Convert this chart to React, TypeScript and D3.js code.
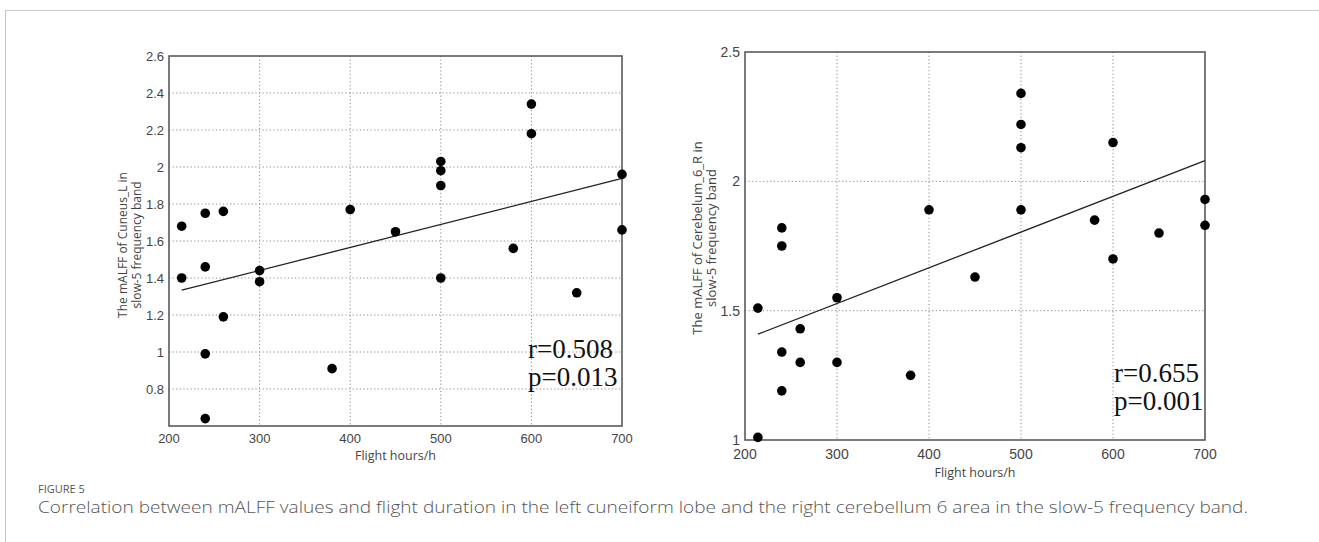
import React from "react";
import * as d3 from "d3";

// ---- Data ----
const leftHours = [214, 214, 240, 240, 240, 240, 260, 260, 300, 300, 380, 400, 450, 500, 500, 500, 500, 580, 600, 600, 650, 700, 700];
const leftValues = [1.68, 1.40, 1.75, 1.46, 0.99, 0.64, 1.76, 1.19, 1.44, 1.38, 0.91, 1.77, 1.65, 2.03, 1.98, 1.90, 1.40, 1.56, 2.34, 2.18, 1.32, 1.96, 1.66];
const leftFit: [number, number][] = [[214, 1.334], [700, 1.938]];
const leftYTicks = [0.8, 1, 1.2, 1.4, 1.6, 1.8, 2, 2.2, 2.4, 2.6];
const leftYDomain: [number, number] = [0.6, 2.6];
const leftStats = ["r=0.508", "p=0.013"];
const leftYLabel = ["The mALFF of Cuneus_L in", "slow-5 frequency band"];

const rightHours = [214, 214, 240, 240, 240, 240, 260, 260, 300, 300, 380, 400, 450, 500, 500, 500, 500, 580, 600, 600, 650, 700, 700];
const rightValues = [1.51, 1.01, 1.82, 1.75, 1.34, 1.19, 1.43, 1.30, 1.55, 1.30, 1.25, 1.89, 1.63, 2.34, 2.22, 2.13, 1.89, 1.85, 2.15, 1.70, 1.80, 1.93, 1.83];
const rightFit: [number, number][] = [[214, 1.409], [700, 2.08]];
const rightYTicks = [1, 1.5, 2, 2.5];
const rightYDomain: [number, number] = [1, 2.5];
const rightStats = ["r=0.655", "p=0.001"];
const rightYLabel = ["The mALFF of Cerebelum_6_R in", "slow-5 frequency band"];

const xTicks = [200, 300, 400, 500, 600, 700];
const xDomain: [number, number] = [200, 700];
const xLabel = "Flight hours/h";
const figureLabel = "FIGURE 5";
const caption = "Correlation between mALFF values and flight duration in the left cuneiform lobe and the right cerebellum 6 area in the slow-5 frequency band.";

type PanelProps = {
  x0: number; x1: number; y0: number; y1: number;
  hours: number[]; values: number[]; fit: [number, number][];
  yTicks: number[]; yDomain: [number, number];
  stats: string[]; yLabel: string[];
  yLabelX: number; yLabelY: number; yLabelSize: number;
  tickSize: number; tickOff: number; titleOff: number;
  statsX: number; statsY: number;
};

function Panel(p: PanelProps) {
  const x = d3.scaleLinear().domain(xDomain).range([p.x0, p.x1]);
  const y = d3.scaleLinear().domain(p.yDomain).range([p.y1, p.y0]);
  const line = d3.line<[number, number]>().x(d => x(d[0])).y(d => y(d[1]));
  const tickFont = "'Liberation Sans', Arial, sans-serif";
  return (
    <g>
      {/* grid */}
      {xTicks.filter(t => t > xDomain[0] && t < xDomain[1]).map(t => (
        <line key={"gx" + t} x1={x(t)} x2={x(t)} y1={p.y0} y2={p.y1} stroke="#8a8a8a" strokeWidth={1} strokeDasharray="1.2,2.4" />
      ))}
      {p.yTicks.filter(t => t > p.yDomain[0] && t < p.yDomain[1]).map(t => (
        <line key={"gy" + t} x1={p.x0} x2={p.x1} y1={y(t)} y2={y(t)} stroke="#8a8a8a" strokeWidth={1} strokeDasharray="1.2,2.4" />
      ))}
      {/* box */}
      <rect x={p.x0} y={p.y0} width={p.x1 - p.x0} height={p.y1 - p.y0} fill="none" stroke="#5a5a5a" strokeWidth={1.6} />
      {/* fit line */}
      <path d={line(p.fit) || ""} fill="none" stroke="#222" strokeWidth={1.3} />
      {/* points */}
      {p.hours.map((h, i) => (
        <circle key={"pt" + i} cx={x(h)} cy={y(p.values[i])} r={4.8} fill="#000" />
      ))}
      {/* tick labels */}
      {xTicks.map(t => (
        <text key={"tx" + t} x={x(t)} y={p.y1 + p.tickOff} textAnchor="middle" dominantBaseline="central" fontFamily={tickFont} fontSize={p.tickSize} fill="#444">{t}</text>
      ))}
      {p.yTicks.map(t => (
        <text key={"ty" + t} x={p.x0 - 5} y={y(t)} textAnchor="end" dominantBaseline="central" fontFamily={tickFont} fontSize={p.tickSize} fill="#444">{String(t)}</text>
      ))}
      {/* axis labels */}
      <text x={(p.x0 + p.x1) / 2} y={p.y1 + p.titleOff} textAnchor="middle" dominantBaseline="central" fontFamily="'Open Sans', sans-serif" fontSize={12.5} fill="#444">{xLabel}</text>
      {p.yLabel.map((s, i) => (
        <text key={"yl" + i} transform={`translate(${p.yLabelX + i * 14},${p.yLabelY}) rotate(-90)`} textAnchor="middle" dominantBaseline="central" fontFamily="'Open Sans', sans-serif" fontSize={p.yLabelSize} fill="#444">{s}</text>
      ))}
      {/* stats */}
      {p.stats.map((s, i) => (
        <text key={"st" + i} x={p.statsX} y={p.statsY + i * 28} dominantBaseline="central" fontFamily="'Liberation Serif', 'Times New Roman', serif" fontSize={27} fill="#111">{s}</text>
      ))}
    </g>
  );
}

export default function App() {
  return (
    <svg width={1319} height={542} style={{ position: "absolute", left: 0, top: 0, background: "#fff" }}>
      <rect x={0} y={0} width={1319} height={542} fill="#fff" />
      {/* frame */}
      <line x1={5} x2={1319} y1={10.5} y2={10.5} stroke="#c8c8c8" strokeWidth={1} />
      <line x1={5.5} x2={5.5} y1={10} y2={542} stroke="#c8c8c8" strokeWidth={1} />
      <Panel x0={169} x1={622} y0={56} y1={426} hours={leftHours} values={leftValues} fit={leftFit}
        yTicks={leftYTicks} yDomain={leftYDomain} stats={leftStats} yLabel={leftYLabel}
        yLabelX={122} yLabelY={245} yLabelSize={12} tickSize={13} tickOff={12} titleOff={29}
        statsX={528} statsY={349} />
      <Panel x0={745} x1={1205} y0={52} y1={440} hours={rightHours} values={rightValues} fit={rightFit}
        yTicks={rightYTicks} yDomain={rightYDomain} stats={rightStats} yLabel={rightYLabel}
        yLabelX={697} yLabelY={238} yLabelSize={13} tickSize={14} tickOff={14} titleOff={32}
        statsX={1114} statsY={373} />
      <text x={38} y={488} dominantBaseline="central" fontFamily="'Open Sans', sans-serif" fontSize={11} fill="#555">{figureLabel}</text>
      <text x={38} y={507} dominantBaseline="central" fontFamily="'Open Sans', sans-serif" fontSize={15.5} fontWeight={300} fill="#555" textLength={1210} lengthAdjust="spacingAndGlyphs">{caption}</text>
    </svg>
  );
}
